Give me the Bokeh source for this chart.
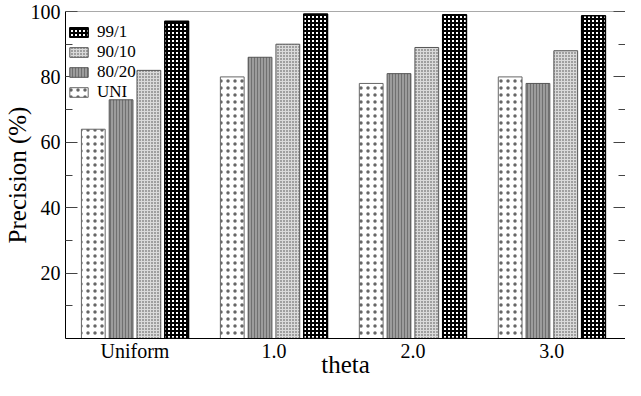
from bokeh.plotting import figure
from bokeh.models import (ColumnDataSource, Range1d, FixedTicker, LinearAxis,
                          Legend, LegendItem, Span)
from bokeh.embed import file_html
from bokeh.resources import INLINE

categories = ["Uniform", "1.0", "2.0", "3.0"]
uni = [64, 80, 78, 80]
s8020 = [73, 86, 81, 78]
s9010 = [82, 90, 89, 88]
s991 = [97, 99.2, 99, 98.7]
y_ticks = [20, 40, 60, 80, 100]
y_minor = [10, 30, 50, 70, 90]
x_title = "theta"
y_title = "Precision (%)"

FONT = "Liberation Serif"

x_start, x_end = -0.5, 3.53
p = figure(width=625, height=380, output_backend="svg", toolbar_location=None,
           x_range=Range1d(x_start, x_end), y_range=Range1d(0, 100),
           min_border_left=60, min_border_right=0, min_border_top=11,
           min_border_bottom=36)
p.xgrid.visible = False
p.ygrid.visible = False
p.outline_line_color = None
p.background_fill_color = "white"
p.border_fill_color = "white"

idx = list(range(len(categories)))
width = 0.171
series = [
    ("UNI", uni, -0.3, dict(fill_color="white", hatch_pattern="dot", hatch_scale=7,
                            hatch_weight=0.3, hatch_color="#666666", line_color="#666666")),
    ("80/20", s8020, -0.1, dict(fill_color="#9c9c9c", hatch_pattern="vertical_line",
                                hatch_scale=3, hatch_weight=1, hatch_color="#707070",
                                line_color="#555555")),
    ("90/10", s9010, 0.1, dict(fill_color="#dadada", hatch_pattern="dot", hatch_scale=3,
                               hatch_weight=0.9, hatch_color="#444444", line_color="#555555")),
    ("99/1", s991, 0.3, dict(fill_color="white", hatch_pattern="cross", hatch_scale=4,
                             hatch_weight=2, hatch_color="black", line_color="black")),
]
renderers = {}
for name, vals, off, style in series:
    src = ColumnDataSource(dict(x=[i + off for i in idx], top=vals))
    lw = 1.5 if name == "99/1" else 1
    r = p.vbar(x="x", top="top", bottom=0, width=width, source=src, line_width=lw, **style)
    renderers[name] = r

# bottom axis
p.xaxis.ticker = FixedTicker(ticks=idx)
p.xaxis.major_label_overrides = {i: c for i, c in zip(idx, categories)}
p.xaxis.major_tick_in = 0
p.xaxis.major_tick_out = 0
p.xaxis.minor_tick_in = 0
p.xaxis.minor_tick_out = 0
p.xaxis.major_label_text_font = FONT
p.xaxis.major_label_text_font_size = "20px"
p.xaxis.major_label_text_color = "black"
p.xaxis.major_label_standoff = 1
p.xaxis.axis_label = x_title
p.xaxis.axis_label_text_font = FONT
p.xaxis.axis_label_text_font_size = "25px"
p.xaxis.axis_label_text_font_style = "normal"
p.xaxis.axis_label_text_color = "black"
p.xaxis.axis_label_standoff = -14
p.xaxis.axis_line_color = "black"

# left axis
p.yaxis.ticker = FixedTicker(ticks=y_ticks, minor_ticks=y_minor)
p.yaxis.major_tick_in = 12
p.yaxis.major_tick_out = 0
p.yaxis.minor_tick_in = 7
p.yaxis.minor_tick_out = 0
p.yaxis.major_tick_line_color = "#444444"
p.yaxis.minor_tick_line_color = "#444444"
p.yaxis.major_label_text_font = FONT
p.yaxis.major_label_text_font_size = "20px"
p.yaxis.major_label_text_color = "black"
p.yaxis.major_label_standoff = 5
p.yaxis.axis_label = y_title
p.yaxis.axis_label_text_font = FONT
p.yaxis.axis_label_text_font_size = "25px"
p.yaxis.axis_label_text_font_style = "normal"
p.yaxis.axis_label_text_color = "black"
p.yaxis.axis_label_standoff = -3
p.yaxis.axis_line_color = "black"

# mirrored right ticks
right = LinearAxis(ticker=FixedTicker(ticks=y_ticks, minor_ticks=y_minor))
right.major_tick_in = 12
right.major_tick_out = 0
right.minor_tick_in = 7
right.minor_tick_out = 0
right.major_tick_line_color = "#444444"
right.minor_tick_line_color = "#444444"
right.major_label_overrides = {t: "" for t in y_ticks}
right.major_label_standoff = 0
right.axis_line_color = None
p.add_layout(right, "right")

p.add_layout(Span(location=100, dimension="width", line_color="#555555", line_width=1))

legend = Legend(items=[LegendItem(label=n, renderers=[renderers[n]])
                       for n in ["99/1", "90/10", "80/20", "UNI"]],
                location=(2, 236), padding=0, margin=0, spacing=0,
                glyph_width=23, glyph_height=12, label_height=19,
                label_standoff=7, label_text_font=FONT, label_text_font_size="17px",
                label_text_color="black",
                background_fill_alpha=0, border_line_color=None)
p.add_layout(legend)

open("out.html", "w").write(file_html(p, INLINE))
